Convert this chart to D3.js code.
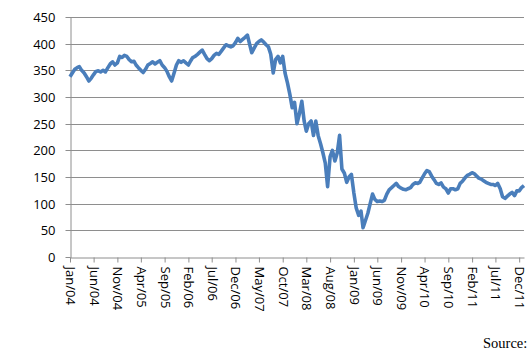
<!DOCTYPE html>
<html>
<head>
<meta charset="utf-8">
<script src="https://cdn.jsdelivr.net/npm/d3@7"></script>
<style>
  html, body { margin: 0; padding: 0; background: #fff; }
  svg { display: block; }
  .tick text { font-family: "Open Sans", sans-serif; font-size: 13px; fill: #000; }
</style>
</head>
<body>
<svg id="chart" width="528" height="359"></svg>
<script>
"use strict";

// semi-monthly readings, starting 1 Jan 2004 (1st and 16th of each month)
var startYear = 2004;
var seriesValues = [
    338, 345, 352, 355, 357, 350, 345, 338, 330, 335,
    342, 348, 349, 347, 350, 347, 355, 362, 366, 360,
    364, 376, 374, 378, 376, 370, 366, 367, 360, 355,
    350, 346, 352, 360, 363, 366, 362, 365, 368, 360,
    355, 348, 338, 330, 345, 360, 368, 365, 368, 364,
    360, 368, 374, 376, 380, 384, 388, 380, 372, 368,
    372, 378, 382, 380, 386, 392, 398, 396, 394, 396,
    402, 410, 404, 408, 412, 416, 400, 383, 392, 400,
    404, 407, 403, 398, 394, 380, 345, 370, 376, 364,
    376, 345, 326, 305, 280, 290, 250, 268, 292, 255,
    236, 250, 255, 228, 255, 228, 212, 195, 176, 132,
    188, 200, 180, 195, 228, 165, 157, 140, 150, 155,
    120, 92, 78, 86, 55, 68, 82, 100, 118, 108,
    104, 105, 104, 106, 118, 126, 130, 134, 138, 132,
    129, 127, 126, 128, 130, 136, 139, 138, 140, 148,
    156, 162, 160, 152, 145, 138, 136, 139, 131, 128,
    120, 128, 128, 126, 128, 138, 142, 148, 153, 155,
    158, 156, 152, 148, 146, 143, 140, 138, 136, 136,
    134, 138, 128, 113, 110, 114, 118, 121, 115, 124,
    124, 130, 134
];

var yTicks = [0, 50, 100, 150, 200, 250, 300, 350, 400, 450];
var xTickLabels = [
    "Jan/04", "Jun/04", "Nov/04", "Apr/05", "Sep/05", "Feb/06", "Jul/06", "Dec/06",
    "May/07", "Oct/07", "Mar/08", "Aug/08", "Jan/09", "Jun/09", "Nov/09", "Apr/10",
    "Sep/10", "Feb/11", "Jul/11", "Dec/11"
];
var sourceText = "Source:";

var margin = {left: 70, top: 17, right: 4, bottom: 102};
var width = 528, height = 359;

var svg = d3.select("#chart");

var data = seriesValues.map(function(v, i) {
    return {date: new Date(startYear, Math.floor(i / 2), i % 2 ? 16 : 1), value: v};
});

var parseTick = d3.timeParse("%b/%y");
var tickDates = xTickLabels.map(function(s) { return parseTick(s); });

var x = d3.scaleTime()
          .domain([new Date(startYear, 0, 1), new Date(startYear + 8, 0, 1)])
          .range([margin.left, width - margin.right]);

var y = d3.scaleLinear()
          .domain([0, 450])
          .range([height - margin.bottom, margin.top]);

// gridlines
svg.append("g")
       .attr("class", "grid")
   .selectAll("line")
   .data(yTicks.slice(1))
   .enter()
   .append("line")
       .attr("x1", margin.left)
       .attr("x2", width - margin.right)
       .attr("y1", function(d) { return Math.round(y(d)) + 0.5; })
       .attr("y2", function(d) { return Math.round(y(d)) + 0.5; })
       .attr("stroke", "#8e8e8e")
       .attr("stroke-width", 1);

// y axis
var yAxis = svg.append("g")
                   .attr("transform", "translate(" + (margin.left + 0.5) + ",0.5)")
                   .call(d3.axisLeft(y).tickValues(yTicks).tickSize(5).tickPadding(10).tickSizeOuter(0));
yAxis.selectAll("line, path").attr("stroke", "#8e8e8e");
yAxis.selectAll(".tick").attr("transform", function(d) {
    return "translate(0," + Math.round(y(d)) + ")";
});

// x axis
var xAxis = svg.append("g")
                   .attr("transform", "translate(0," + (Math.round(y(0)) + 0.5) + ")")
                   .call(d3.axisBottom(x)
                             .tickValues(tickDates)
                             .tickFormat(function(d, i) { return xTickLabels[i]; })
                             .tickSize(5)
                             .tickSizeOuter(0));
xAxis.selectAll("line, path").attr("stroke", "#8e8e8e");
xAxis.selectAll(".tick text")
        .attr("transform", "rotate(90)")
        .attr("x", 9)
        .attr("y", 0)
        .attr("dy", "0.35em")
        .attr("text-anchor", "start");

// series line
var line = d3.line()
             .x(function(d) { return x(d.date); })
             .y(function(d) { return y(d.value); });

svg.append("path")
       .datum(data)
       .attr("fill", "none")
       .attr("stroke", "#4a7ebb")
       .attr("stroke-width", 3.6)
       .attr("stroke-linejoin", "round")
       .attr("d", line);

svg.append("text")
       .attr("x", 483)
       .attr("y", 348)
       .attr("font-family", "'Liberation Serif', 'Times New Roman', serif")
       .attr("font-size", 14.5)
       .text(sourceText);
</script>
</body>
</html>
